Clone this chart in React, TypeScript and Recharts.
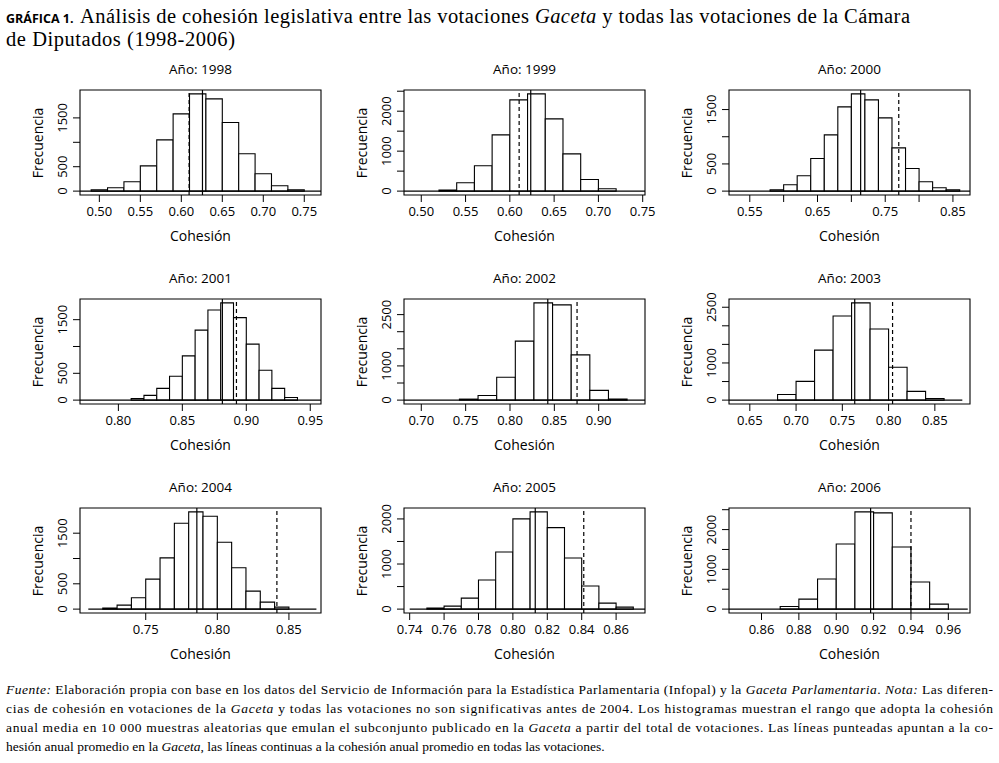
import React from 'react';
import { ComposedChart, XAxis, YAxis, ReferenceArea, ReferenceLine } from 'recharts';

// ---------- data ----------
const years = [1998, 1999, 2000, 2001, 2002, 2003, 2004, 2005, 2006];

const counts1998 = [27, 68, 191, 518, 1050, 1583, 1992, 1890, 1405, 764, 355, 109, 27];
const counts1999 = [25, 208, 633, 1408, 2283, 2433, 1808, 933, 292, 58];
const counts2000 = [24, 116, 282, 600, 1035, 1549, 1788, 1678, 1347, 796, 416, 171, 61, 24];
const counts2001 = [31, 88, 219, 444, 825, 1306, 1681, 1813, 1538, 1044, 556, 219, 50];
const counts2002 = [29, 137, 667, 1725, 2843, 2784, 1324, 284, 29];
const counts2003 = [153, 505, 1345, 2265, 2617, 1913, 884, 235, 45];
const counts2004 = [20, 79, 224, 592, 1013, 1697, 1921, 1836, 1322, 816, 355, 138, 39];
const counts2005 = [22, 67, 244, 644, 1267, 2000, 2156, 1807, 1133, 511, 133, 44];
const counts2006 = [67, 252, 756, 1639, 2445, 2420, 1563, 681, 126];
const countsByYear = [counts1998, counts1999, counts2000, counts2001, counts2002, counts2003, counts2004, counts2005, counts2006];

// first break and bin width of each histogram
const binStarts = [0.49, 0.52, 0.58, 0.81, 0.743, 0.68, 0.72, 0.75, 0.87];
const binWidths = [0.02, 0.02, 0.02, 0.01, 0.021, 0.02, 0.01, 0.01, 0.01];

// solid line: mean cohesion in all votes; dashed line: mean cohesion in Gaceta votes
const meanAll = [0.6258, 0.6236, 0.7137, 0.8813, 0.8426, 0.7634, 0.7857, 0.813, 0.9184];
const meanGaceta = [0.6095, 0.6105, 0.77, 0.8923, 0.8756, 0.8043, 0.8416, 0.8412, 0.94];

// x range of each panel
const xMins = [0.4764, 0.4805, 0.5193, 0.77, 0.6805, 0.6275, 0.7041, 0.7367, 0.8426];
const xMaxs = [0.7704, 0.7526, 0.8752, 0.9584, 0.9522, 0.888, 0.8724, 0.8768, 0.9716];

// extent of the baseline drawn at frequency 0
const zeroFrom = [0.4764, 0.4805, 0.5193, 0.77, 0.6805, 0.6275, 0.7099, 0.74, 0.8426];
const zeroTo = [0.7704, 0.7526, 0.8752, 0.9584, 0.9522, 0.8797, 0.8692, 0.8768, 0.9704];

// tick values and which of them carry a label
const xTicks = [
  [0.5, 0.55, 0.6, 0.65, 0.7, 0.75],
  [0.5, 0.55, 0.6, 0.65, 0.7, 0.75],
  [0.55, 0.6, 0.65, 0.7, 0.75, 0.8, 0.85],
  [0.8, 0.85, 0.9, 0.95],
  [0.7, 0.75, 0.8, 0.85, 0.9],
  [0.65, 0.7, 0.75, 0.8, 0.85],
  [0.75, 0.8, 0.85],
  [0.74, 0.76, 0.78, 0.8, 0.82, 0.84, 0.86],
  [0.86, 0.88, 0.9, 0.92, 0.94, 0.96],
];
const xTickLabels = [
  [0.5, 0.55, 0.6, 0.65, 0.7, 0.75],
  [0.5, 0.55, 0.6, 0.65, 0.7, 0.75],
  [0.55, 0.65, 0.75, 0.85],
  [0.8, 0.85, 0.9, 0.95],
  [0.7, 0.75, 0.8, 0.85, 0.9],
  [0.65, 0.7, 0.75, 0.8, 0.85],
  [0.75, 0.8, 0.85],
  [0.74, 0.76, 0.78, 0.8, 0.82, 0.84, 0.86],
  [0.86, 0.88, 0.9, 0.92, 0.94, 0.96],
];
const yTicks = [
  [0, 500, 1000, 1500],
  [0, 500, 1000, 1500, 2000, 2500],
  [0, 500, 1000, 1500],
  [0, 500, 1000, 1500],
  [0, 500, 1000, 1500, 2000, 2500],
  [0, 500, 1000, 1500, 2000, 2500],
  [0, 500, 1000, 1500],
  [0, 500, 1000, 1500, 2000],
  [0, 500, 1000, 1500, 2000, 2500],
];
const yTickLabels = [
  [0, 500, 1500],
  [0, 1000, 2000],
  [0, 500, 1500],
  [0, 500, 1500],
  [0, 1000, 2500],
  [0, 1000, 2500],
  [0, 500, 1500],
  [0, 1000, 2000],
  [0, 1000, 2000],
];

const titlePrefix = 'Año: ';
const xLabel = 'Cohesión';
const yLabel = 'Frecuencia';

// ---------- layout ----------
const COL_LEFT = [80, 404, 729];
const ROW_TOP = [90, 299, 508];
const BOX_W = 241;
const BOX_H = 105;
const ML = 40;
const MT = 6;
const MR = 24;
const MB = 34;
const FONT = '"Open Sans", "DejaVu Sans", sans-serif';
const SERIF = '"Liberation Serif", "DejaVu Serif", serif';
const INK = '#000';

function YTick(props: any) {
  const { x, y, payload, shown } = props;
  const v = payload.value;
  if (!shown.includes(v)) return <g />;
  const bx = x - 6;
  return (
    <text
      x={bx}
      y={y}
      transform={`rotate(-90 ${bx} ${y})`}
      textAnchor="middle"
      fontSize={13}
      fontFamily={FONT}
      fill={INK}
    >
      {String(v)}
    </text>
  );
}

function Panel({ idx }: { idx: number }) {
  const counts = countsByYear[idx];
  const M = Math.max(...counts);
  const yDomain: [number, number] = [-0.04 * M, 1.04 * M];
  const xDomain: [number, number] = [xMins[idx], xMaxs[idx]];
  const start = binStarts[idx];
  const w = binWidths[idx];
  const bins = counts.map((c, i) => ({ x0: start + i * w, x1: start + (i + 1) * w, count: c }));
  const col = idx % 3;
  const row = Math.floor(idx / 3);
  const left = COL_LEFT[col];
  const top = ROW_TOP[row];
  const shownX = xTickLabels[idx];
  const shownY = yTickLabels[idx];

  return (
    <>
      <div style={{ position: 'absolute', left: left - ML, top: top - MT }}>
        <ComposedChart
          width={ML + BOX_W + MR}
          height={MT + BOX_H + MB}
          data={bins}
          margin={{ top: MT, right: MR, bottom: 0, left: 0 }}
        >
          <XAxis
            type="number"
            dataKey="x0"
            domain={xDomain}
            allowDataOverflow
            ticks={xTicks[idx]}
            interval={0}
            tickSize={7}
            tickMargin={5}
            axisLine={false}
            tickLine={{ stroke: '#000' }}
            tick={{ fill: INK, fontSize: 13, fontFamily: FONT }}
            tickFormatter={(v: number) => (shownX.includes(v) ? v.toFixed(2) : '')}
            height={MB}
          />
          <YAxis
            type="number"
            domain={yDomain}
            allowDataOverflow
            ticks={yTicks[idx]}
            interval={0}
            tickSize={7}
            tickMargin={0}
            axisLine={false}
            tickLine={{ stroke: '#000' }}
            width={ML}
            tick={(p: any) => <YTick {...p} shown={shownY} />}
          />
          {bins.map((b, i) => (
            <ReferenceArea
              key={'b' + i}
              x1={b.x0}
              x2={b.x1}
              y1={0}
              y2={b.count}
              fill="#fff"
              fillOpacity={1}
              stroke="#000"
              strokeWidth={1.1}
              ifOverflow="visible"
            />
          ))}
          <ReferenceLine
            segment={[{ x: zeroFrom[idx], y: 0 }, { x: zeroTo[idx], y: 0 }]}
            stroke="#000"
            strokeWidth={1.1}
            ifOverflow="visible"
          />
          <ReferenceLine x={meanAll[idx]} stroke="#000" strokeWidth={1.2} ifOverflow="visible" />
          <ReferenceLine x={meanGaceta[idx]} stroke="#000" strokeWidth={1.2} strokeDasharray="4 3" ifOverflow="visible" />
          <ReferenceArea
            x1={xDomain[0]}
            x2={xDomain[1]}
            y1={yDomain[0]}
            y2={yDomain[1]}
            fill="none"
            fillOpacity={0}
            stroke="#000"
            strokeWidth={1.1}
            ifOverflow="visible"
          />
        </ComposedChart>
      </div>
      <div
        style={{
          position: 'absolute',
          left: left + BOX_W / 2,
          top: top - 21,
          transform: 'translate(-50%, -50%)',
          fontFamily: FONT,
          fontSize: 13.5,
          color: INK,
          whiteSpace: 'nowrap',
          lineHeight: '16px',
        }}
      >
        {titlePrefix + years[idx]}
      </div>
      <div
        style={{
          position: 'absolute',
          left: left - 42,
          top: top + BOX_H / 2,
          transform: 'translate(-50%, -50%) rotate(-90deg)',
          fontFamily: FONT,
          fontSize: 14,
          color: INK,
          whiteSpace: 'nowrap',
          lineHeight: '16px',
        }}
      >
        {yLabel}
      </div>
      <div
        style={{
          position: 'absolute',
          left: left + BOX_W / 2,
          top: top + BOX_H + 41,
          transform: 'translate(-50%, -50%)',
          fontFamily: FONT,
          fontSize: 14,
          color: INK,
          whiteSpace: 'nowrap',
          lineHeight: '16px',
        }}
      >
        {xLabel}
      </div>
    </>
  );
}

const it = { fontStyle: 'italic' } as const;

export default function App() {
  return (
    <div
      style={{
        position: 'absolute',
        left: 0,
        top: 0,
        width: 999,
        height: 763,
        background: '#fff',
        overflow: 'hidden',
      }}
    >
      {years.map((_, i) => (
        <Panel key={i} idx={i} />
      ))}

      <svg width={999} height={763} style={{ position: 'absolute', left: 0, top: 0, pointerEvents: 'none' }}>
        <text x={6} y={23} fontFamily={FONT} fontWeight={700} fontSize={12.5} fill={INK}>
          GRÁFICA 1.
        </text>
        <text x={80} y={23} fontFamily={SERIF} fontSize={20.5} fill={INK} textLength={830} lengthAdjust="spacing">
          {'Análisis de cohesión legislativa entre las votaciones '}
          <tspan style={it}>Gaceta</tspan>
          {' y todas las votaciones de la Cámara'}
        </text>
        <text x={6} y={46} fontFamily={SERIF} fontSize={20.5} fill={INK} textLength={229} lengthAdjust="spacing">
          de Diputados (1998-2006)
        </text>

        <g fontFamily={SERIF} fontSize={13.5} fill={INK}>
          <text x={6} y={694} textLength={987} lengthAdjust="spacing">
            <tspan style={it}>Fuente:</tspan>
            {' Elaboración propia con base en los datos del Servicio de Información para la Estadística Parlamentaria (Infopal) y la '}
            <tspan style={it}>Gaceta Parlamentaria</tspan>
            {'. '}
            <tspan style={it}>Nota:</tspan>
            {' Las diferen-'}
          </text>
          <text x={6} y={713} textLength={987} lengthAdjust="spacing">
            {'cias de cohesión en votaciones de la '}
            <tspan style={it}>Gaceta</tspan>
            {' y todas las votaciones no son significativas antes de 2004. Los histogramas muestran el rango que adopta la cohesión'}
          </text>
          <text x={6} y={732} textLength={987} lengthAdjust="spacing">
            {'anual media en 10 000 muestras aleatorias que emulan el subconjunto publicado en la '}
            <tspan style={it}>Gaceta</tspan>
            {' a partir del total de votaciones. Las líneas punteadas apuntan a la co-'}
          </text>
          <text x={6} y={751}>
            {'hesión anual promedio en la '}
            <tspan style={it}>Gaceta</tspan>
            {', las líneas continuas a la cohesión anual promedio en todas las votaciones.'}
          </text>
        </g>
      </svg>
    </div>
  );
}
